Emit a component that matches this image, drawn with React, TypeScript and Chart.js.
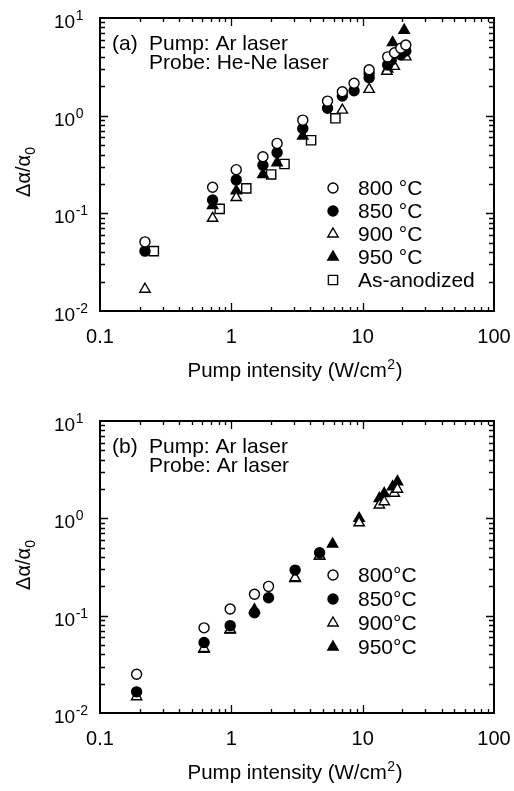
import React, { useEffect, useRef } from "react";
import { Chart, registerables } from "chart.js";
Chart.register(...registerables);

// ---- axis tick labels ----
const xTickValues = [0.1, 1, 10, 100];
const xTickLabels = ["0.1", "1", "10", "100"];
const yTickValues = [0.01, 0.1, 1, 10];
const yTickExponents = ["-2", "-1", "0", "1"];
const xTitle = "Pump intensity (W/cm";
const xTitleSup = "2";
const xTitleEnd = ")";
const yTitle = "\u0394\u03b1/\u03b1";
const yTitleSub = "0";

// ---- panel (a) ----
const aNoteLetter = "(a)";
const aNoteLines = ["Pump: Ar laser", "Probe: He-Ne laser"];
const aSeriesNames = ["800 \u00b0C", "850 \u00b0C", "900 \u00b0C", "950 \u00b0C", "As-anodized"];
const a800 = [[0.22, 0.051], [0.72, 0.185], [1.09, 0.28], [1.74, 0.38], [2.23, 0.52], [3.5, 0.9], [5.4, 1.41], [7.0, 1.76], [8.6, 2.15], [11.2, 2.95], [15.5, 4.0], [17.5, 4.4], [19.5, 4.9], [21.3, 5.3]];
const a850 = [[0.22, 0.041], [0.72, 0.137], [1.09, 0.22], [1.74, 0.31], [2.23, 0.42], [3.5, 0.74], [5.4, 1.19], [7.0, 1.59], [8.6, 1.8], [11.2, 2.45], [11.2, 2.7], [15.5, 3.3], [16.5, 3.7], [19.5, 4.2], [21.3, 4.6]];
const a900 = [[0.22, 0.0167], [0.72, 0.089], [1.09, 0.145], [7.0, 1.14], [11.2, 1.86], [15.3, 2.85], [17.4, 3.2], [21.3, 4.0]];
const a950 = [[0.72, 0.12], [1.09, 0.17], [1.74, 0.25], [2.23, 0.33], [3.5, 0.62], [15.5, 3.0], [16.9, 5.6], [20.7, 7.5]];
const aAnodized = [[0.257, 0.041], [0.815, 0.111], [1.3, 0.18], [2.01, 0.25], [2.54, 0.32], [4.05, 0.56], [6.2, 0.94]];

// ---- panel (b) ----
const bNoteLetter = "(b)";
const bNoteLines = ["Pump: Ar laser", "Probe: Ar laser"];
const bSeriesNames = ["800\u00b0C", "850\u00b0C", "900\u00b0C", "950\u00b0C"];
const b800 = [[0.19, 0.025], [0.62, 0.075], [0.98, 0.117], [1.5, 0.166], [1.92, 0.2]];
const b850 = [[0.19, 0.0165], [0.62, 0.053], [0.98, 0.079], [1.5, 0.107], [1.92, 0.153], [3.06, 0.294], [4.7, 0.443]];
const b900 = [[0.19, 0.0147], [0.62, 0.046], [0.98, 0.072], [3.06, 0.245], [4.7, 0.41], [9.4, 0.9], [13.4, 1.37], [14.6, 1.48], [17.4, 1.81], [18.4, 1.99]];
const b950 = [[0.62, 0.045], [0.98, 0.071], [1.5, 0.115], [3.06, 0.24], [4.7, 0.41], [5.9, 0.544], [9.4, 1.0], [13.4, 1.6], [14.6, 1.8], [16.9, 2.11], [18.4, 2.38]];

const FONT = "'Liberation Sans', Arial, Helvetica, sans-serif";

type Marker = { style: string; filled: boolean; r: number };
const markers: Marker[] = [
  { style: "circle", filled: false, r: 5 },
  { style: "circle", filled: true, r: 5 },
  { style: "triangle", filled: false, r: 6 },
  { style: "triangle", filled: true, r: 6 },
  { style: "rect", filled: false, r: 6.5 },
];

function makeDataset(name: string, pts: number[][], m: Marker) {
  return {
    label: name,
    data: pts.map(([x, y]) => ({ x, y })),
    showLine: false,
    pointStyle: m.style,
    pointRadius: m.r,
    pointHoverRadius: m.r,
    pointBorderWidth: 1.4,
    borderColor: "#000",
    backgroundColor: m.filled ? "#000" : "#fff",
    pointBorderColor: "#000",
    pointBackgroundColor: m.filled ? "#000" : "#fff",
  };
}

type PanelProps = {
  top: number;
  height: number;
  plotTop: number;
  plotBottom: number;
  plotLeft: number;
  plotRight: number;
  names: string[];
  series: number[][][];
  letter: string;
  lines: string[];
  noteBase: number;
  legendX: number;
  legendY: number;
  legendStep: number;
  yTitleY: number;
};

function drawSup(ctx: CanvasRenderingContext2D, base: string, sup: string, x: number, y: number, baseSize: number, supSize: number) {
  ctx.font = `${baseSize}px ${FONT}`;
  ctx.fillText(base, x, y);
  const w = ctx.measureText(base).width;
  ctx.font = `${supSize}px ${FONT}`;
  ctx.fillText(sup, x + w + 0.5, y - baseSize * 0.42);
  return w + 0.5 + ctx.measureText(sup).width;
}

function Panel(p: PanelProps) {
  const ref = useRef<HTMLCanvasElement>(null);
  useEffect(() => {
    const canvas = ref.current!;
    const W = 514;
    const plugin = {
      id: "frame",
      afterDraw(chart: any) {
        const { ctx, chartArea: ca } = chart;
        const xs = chart.scales.x;
        const ys = chart.scales.y;
        ctx.save();
        ctx.strokeStyle = "#000";
        ctx.fillStyle = "#000";
        ctx.lineWidth = 2;
        ctx.strokeRect(ca.left, ca.top, ca.right - ca.left, ca.bottom - ca.top);
        ctx.lineWidth = 1.3;
        ctx.beginPath();
        for (let d = -1; d < 2; d++) {
          for (let m = 1; m < 10; m++) {
            const v = m * Math.pow(10, d);
            const px = Math.round(xs.getPixelForValue(v)) + 0.5;
            const len = m === 1 ? 8 : 4;
            if (m === 1 && d === -1) continue;
            ctx.moveTo(px, ca.bottom);
            ctx.lineTo(px, ca.bottom - len);
            ctx.moveTo(px, ca.top);
            ctx.lineTo(px, ca.top + len);
          }
        }
        for (let d = -2; d < 1; d++) {
          for (let m = 1; m < 10; m++) {
            const v = m * Math.pow(10, d);
            const py = Math.round(ys.getPixelForValue(v)) + 0.5;
            const len = m === 1 ? 8 : 5;
            if (m === 1 && d === -2) continue;
            ctx.moveTo(ca.left, py);
            ctx.lineTo(ca.left + len, py);
            ctx.moveTo(ca.right, py);
            ctx.lineTo(ca.right - len, py);
          }
        }
        ctx.stroke();

        // x tick labels
        ctx.font = `20px ${FONT}`;
        ctx.textAlign = "center";
        ctx.textBaseline = "alphabetic";
        xTickValues.forEach((v, i) => {
          ctx.fillText(xTickLabels[i], xs.getPixelForValue(v), ca.bottom + 32);
        });
        // y tick labels
        ctx.textAlign = "left";
        yTickValues.forEach((v, i) => {
          const py = ys.getPixelForValue(v);
          drawSup(ctx, "10", yTickExponents[i], 54, py + 10, 19, 14);
        });
        // x title
        ctx.font = `20.5px ${FONT}`;
        const w1 = ctx.measureText(xTitle).width;
        ctx.font = `14px ${FONT}`;
        const w2 = ctx.measureText(xTitleSup).width;
        ctx.font = `20.5px ${FONT}`;
        const w3 = ctx.measureText(xTitleEnd).width;
        const tot = w1 + w2 + w3 + 1;
        const cx = 295;
        const tx = cx - tot / 2;
        const ty = ca.bottom + 66;
        ctx.fillText(xTitle, tx, ty);
        ctx.font = `14px ${FONT}`;
        ctx.fillText(xTitleSup, tx + w1 + 0.5, ty - 8);
        ctx.font = `20.5px ${FONT}`;
        ctx.fillText(xTitleEnd, tx + w1 + w2 + 1, ty);
        // y title (rotated)
        ctx.save();
        ctx.translate(30, p.yTitleY);
        ctx.rotate(-Math.PI / 2);
        ctx.font = `20px ${FONT}`;
        const yw1 = ctx.measureText(yTitle).width;
        ctx.font = `14px ${FONT}`;
        const yw2 = ctx.measureText(yTitleSub).width;
        ctx.font = `20px ${FONT}`;
        ctx.fillText(yTitle, -(yw1 + yw2) / 2, 0);
        ctx.font = `14px ${FONT}`;
        ctx.fillText(yTitleSub, -(yw1 + yw2) / 2 + yw1, 5);
        ctx.restore();

        // note
        ctx.font = `21px ${FONT}`;
        ctx.fillText(p.letter, ca.left + 12, p.noteBase);
        p.lines.forEach((ln, i) => ctx.fillText(ln, ca.left + 49, p.noteBase + i * 18.5));

        // legend
        p.names.forEach((nm, i) => {
          const ly = p.legendY + i * p.legendStep;
          const m = markers[i];
          ctx.lineWidth = 1.4;
          ctx.strokeStyle = "#000";
          ctx.fillStyle = m.filled ? "#000" : "#fff";
          ctx.beginPath();
          const lx = p.legendX;
          if (m.style === "circle") {
            ctx.arc(lx, ly, m.r, 0, Math.PI * 2);
          } else if (m.style === "triangle") {
            ctx.moveTo(lx, ly - m.r);
            ctx.lineTo(lx + m.r * 0.866, ly + m.r / 2);
            ctx.lineTo(lx - m.r * 0.866, ly + m.r / 2);
            ctx.closePath();
          } else {
            const s = m.r * Math.SQRT1_2;
            ctx.rect(lx - s, ly - s, 2 * s, 2 * s);
          }
          ctx.fill();
          ctx.stroke();
          ctx.fillStyle = "#000";
          ctx.font = `21px ${FONT}`;
          ctx.textBaseline = "middle";
          ctx.fillText(nm, lx + 25, ly + 1);
          ctx.textBaseline = "alphabetic";
        });
        ctx.restore();
      },
    };
    const chart = new Chart(canvas, {
      type: "scatter",
      data: {
        datasets: p.series.map((s, i) => makeDataset(p.names[i], s, markers[i])),
      },
      options: {
        animation: false,
        responsive: false,
        devicePixelRatio: 1,
        layout: {
          padding: {
            left: p.plotLeft,
            right: W - p.plotRight,
            top: p.plotTop - p.top,
            bottom: p.top + p.height - p.plotBottom,
          },
        },
        plugins: { legend: { display: false }, tooltip: { enabled: false } },
        scales: {
          x: { type: "logarithmic", min: 0.1, max: 100, display: false },
          y: { type: "logarithmic", min: 0.01, max: 10, display: false },
        },
      } as any,
      plugins: [plugin as any],
    });
    return () => chart.destroy();
  }, []);
  return (
    <canvas
      ref={ref}
      width={514}
      height={p.height}
      style={{ position: "absolute", left: 0, top: p.top, width: 514, height: p.height }}
    />
  );
}

export default function App() {
  return (
    <div style={{ position: "absolute", left: 0, top: 0, width: 514, height: 791, background: "#fff" }}>
      <Panel
        top={0}
        height={395}
        plotTop={18}
        plotBottom={311}
        plotLeft={100}
        plotRight={494}
        names={aSeriesNames}
        series={[a800, a850, a900, a950, aAnodized]}
        letter={aNoteLetter}
        lines={aNoteLines}
        noteBase={50}
        legendX={333}
        legendY={188}
        legendStep={23}
        yTitleY={172}
      />
      <Panel
        top={395}
        height={396}
        plotTop={421}
        plotBottom={713}
        plotLeft={100}
        plotRight={494}
        names={bSeriesNames}
        series={[b800, b850, b900, b950]}
        letter={bNoteLetter}
        lines={bNoteLines}
        noteBase={453 - 395}
        legendX={333}
        legendY={575 - 395}
        legendStep={24}
        yTitleY={565 - 395}
      />
    </div>
  );
}
